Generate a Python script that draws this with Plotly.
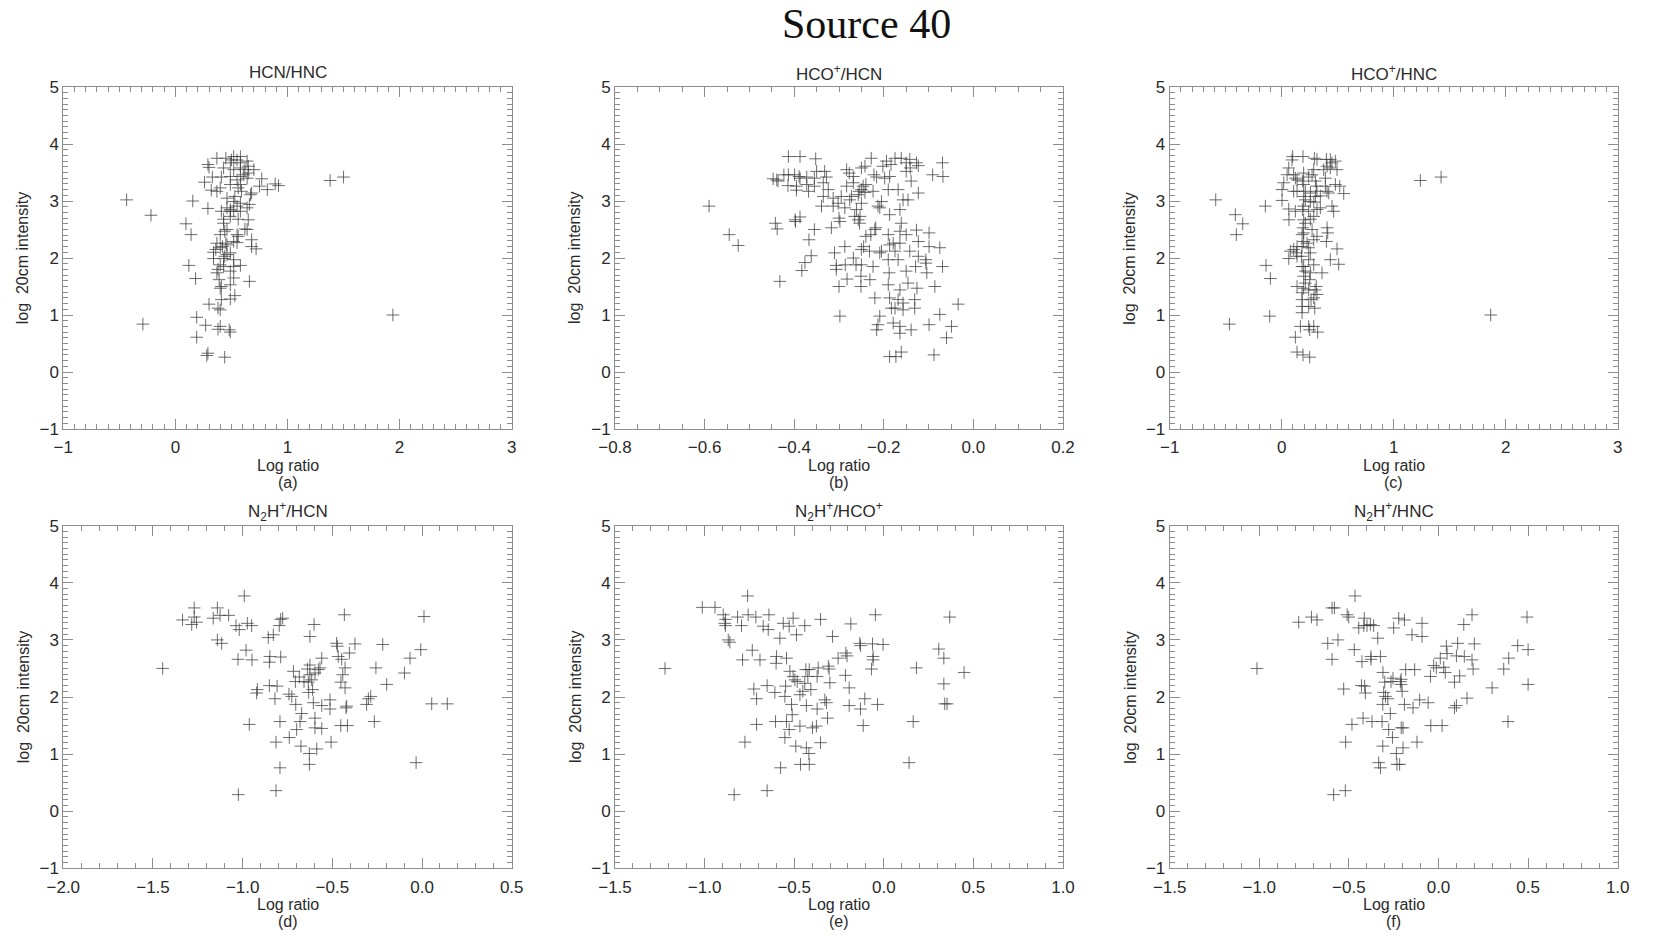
import plotly.graph_objects as go

W, H = 1677, 942

# ---------------- data ----------------
a_x = [-0.435, -0.218, -0.29, 1.94, 1.38, 1.50, 0.155, 0.094, 0.14, 0.12, 0.18, 0.19, 0.19, 0.29, 0.28, 0.44,
       0.27, 0.30, 0.40, 0.38, 0.48, 0.49, 0.38, 0.40, 0.41, 0.49, 0.53, 0.40, 0.41, 0.49, 0.52, 0.66,
       0.37, 0.38, 0.43, 0.52, 0.58, 0.34, 0.43, 0.44, 0.49, 0.34, 0.36, 0.40, 0.42, 0.46, 0.37, 0.52,
       0.56, 0.55, 0.68, 0.72, 0.68, 0.40, 0.44, 0.46, 0.43, 0.43, 0.49, 0.52, 0.49, 0.46, 0.29, 0.56,
       0.65, 0.62, 0.64, 0.58, 0.64, 0.66, 0.58, 0.52, 0.53, 0.46, 0.67, 0.68, 0.32, 0.37, 0.40, 0.49,
       0.56, 0.58, 0.55, 0.26, 0.33, 0.41, 0.49, 0.58, 0.61, 0.64, 0.65, 0.62, 0.70, 0.65, 0.58, 0.52,
       0.58, 0.64, 0.50, 0.52, 0.58, 0.55, 0.49, 0.43, 0.29, 0.30, 0.37, 0.45, 0.77, 0.75, 0.82, 0.89,
       0.92, 0.59, 0.55, 0.45, 0.46, 0.40, 0.39, 0.49, 0.49, 0.41, 0.55, 0.52]
a_y = [3.02, 2.75, 0.84, 1.00, 3.36, 3.42, 3.00, 2.60, 2.41, 1.87, 1.64, 0.96, 0.61, 0.33, 0.29, 0.26,
       0.82, 1.19, 0.80, 0.75, 0.74, 0.70, 1.12, 1.09, 1.27, 1.28, 1.34, 1.47, 1.50, 1.53, 1.65, 1.59,
       1.74, 1.80, 1.85, 1.85, 1.87, 1.99, 1.99, 2.03, 2.09, 2.10, 2.15, 2.18, 2.20, 2.23, 2.26, 2.29,
       2.38, 2.27, 2.32, 2.16, 2.20, 2.41, 2.47, 2.50, 2.61, 2.68, 2.73, 2.82, 2.85, 2.88, 2.87, 2.68,
       2.67, 2.51, 2.50, 2.82, 2.88, 2.94, 2.96, 2.99, 3.08, 3.05, 3.11, 3.14, 3.19, 3.17, 3.23, 3.29,
       3.23, 3.29, 3.37, 3.33, 3.42, 3.42, 3.43, 3.43, 3.46, 3.40, 3.49, 3.55, 3.55, 3.61, 3.58, 3.55,
       3.67, 3.70, 3.72, 3.78, 3.78, 3.72, 3.67, 3.58, 3.64, 3.59, 3.75, 3.75, 3.39, 3.26, 3.20, 3.30,
       3.27, 3.17, 2.91, 2.26, 2.06, 1.88, 1.62, 1.77, 2.82, 2.82, 2.41, 1.97]

b_x = [-0.590, -0.545, -0.525, -0.432, -0.442, -0.438, -0.447, -0.439, -0.436, -0.423, -0.413, -0.413,
       -0.414, -0.387, -0.399, -0.395, -0.395, -0.389, -0.387, -0.372, -0.368, -0.372, -0.352, -0.350,
       -0.355, -0.355, -0.328, -0.332, -0.335, -0.335, -0.339, -0.324, -0.313, -0.313, -0.398, -0.387,
       -0.397, -0.355, -0.367, -0.362, -0.376, -0.383, -0.317, -0.310, -0.306, -0.306, -0.300, -0.298,
       -0.300, -0.298, -0.302, -0.295, -0.283, -0.277, -0.276, -0.272, -0.268, -0.268, -0.283, -0.287,
       -0.287, -0.286, -0.282, -0.261, -0.265, -0.254, -0.257, -0.255, -0.250, -0.250, -0.242, -0.246,
       -0.240, -0.242, -0.250, -0.253, -0.257, -0.268, -0.262, -0.250, -0.251, -0.251, -0.231, -0.250,
       -0.245, -0.240, -0.229, -0.232, -0.228, -0.224, -0.222, -0.216, -0.213, -0.209, -0.218, -0.220,
       -0.224, -0.220, -0.213, -0.216, -0.209, -0.209, -0.205, -0.205, -0.202, -0.198, -0.194, -0.184,
       -0.187, -0.190, -0.187, -0.190, -0.187, -0.190, -0.188, -0.190, -0.187, -0.187, -0.175, -0.168,
       -0.179, -0.175, -0.183, -0.175, -0.179, -0.173, -0.164, -0.168, -0.164, -0.164, -0.161, -0.164,
       -0.161, -0.164, -0.168, -0.161, -0.157, -0.150, -0.150, -0.146, -0.142, -0.141, -0.139, -0.150,
       -0.146, -0.157, -0.157, -0.139, -0.142, -0.150, -0.127, -0.123, -0.123, -0.127, -0.123, -0.123,
       -0.129, -0.131, -0.131, -0.126, -0.106, -0.104, -0.099, -0.099, -0.091, -0.099, -0.088, -0.086,
       -0.075, -0.075, -0.069, -0.069, -0.068, -0.060, -0.049, -0.034, -0.106, -0.164]
b_y = [2.91, 2.41, 2.22, 1.59, 2.61, 2.51, 3.39, 3.37, 3.35, 3.46, 3.78, 3.46,
       3.27, 3.78, 3.46, 3.26, 3.19, 3.43, 3.40, 3.42, 3.17, 3.29, 3.74, 3.52,
       3.40, 3.26, 3.42, 3.52, 3.32, 3.08, 2.91, 3.20, 3.05, 2.91, 2.67, 2.72,
       2.64, 2.50, 2.32, 2.04, 1.92, 1.78, 2.53, 2.09, 1.87, 1.80, 1.50, 0.98,
       2.70, 2.64, 2.96, 3.08, 3.55, 3.49, 3.02, 3.08, 3.43, 3.32, 3.26, 2.88,
       2.20, 1.88, 1.63, 2.85, 2.73, 2.61, 3.11, 3.17, 3.20, 3.58, 3.61, 3.26,
       3.29, 3.15, 2.96, 2.73, 2.67, 2.00, 1.88, 1.88, 1.68, 1.50, 1.62, 2.15,
       2.20, 2.38, 2.41, 2.12, 3.75, 3.17, 3.46, 3.42, 2.91, 2.88, 2.53, 2.50,
       1.85, 1.30, 0.83, 0.74, 0.98, 2.09, 2.12, 2.99, 3.61, 3.40, 3.70, 3.64,
       3.43, 3.20, 2.76, 2.41, 2.23, 1.97, 1.74, 1.53, 1.30, 0.27, 3.75, 3.20,
       2.26, 2.12, 1.12, 1.12, 0.86, 0.27, 1.44, 1.27, 0.80, 0.68, 0.35, 2.85,
       2.61, 2.47, 1.97, 3.75, 3.02, 3.67, 3.52, 3.02, 3.73, 3.58, 3.35, 1.77,
       1.56, 1.21, 1.09, 0.74, 2.12, 2.41, 3.67, 3.62, 3.14, 2.49, 2.29, 2.03,
       1.85, 1.27, 1.12, 1.47, 1.97, 1.74, 2.44, 2.20, 3.46, 0.83, 0.30, 1.50,
       1.01, 2.18, 1.85, 3.67, 3.43, 0.60, 0.80, 1.19, 1.91, 2.26]

c_x = [-0.589, -0.414, -0.405, -0.348, -0.467, -0.146, -0.140, -0.101, -0.107, 0.003, 0.003, 0.018, 0.048,
       0.063, 0.098, 0.092, 0.065, 0.063, 0.063, 0.077, 0.107, 0.131, 0.137, 0.107, 0.122, 0.137, 0.137,
       0.107, 0.190, 0.196, 0.185, 0.196, 0.211, 0.196, 0.211, 0.196, 0.185, 0.196, 0.211, 0.190, 0.182,
       0.196, 0.182, 0.176, 0.196, 0.211, 0.196, 0.211, 0.196, 0.182, 0.182, 0.182, 0.182, 0.167, 0.122,
       0.137, 0.190, 0.250, 0.250, 0.241, 0.286, 0.321, 0.137, 0.241, 0.262, 0.286, 0.315, 0.309, 0.295,
       0.241, 0.250, 0.256, 0.286, 0.241, 0.256, 0.241, 0.226, 0.286, 0.315, 0.271, 0.256, 0.286, 0.315,
       0.256, 0.301, 0.256, 0.241, 0.271, 0.301, 0.309, 0.315, 0.286, 0.292, 0.315, 0.345, 0.360, 0.390,
       0.405, 0.375, 0.390, 0.405, 0.434, 0.449, 0.434, 0.479, 0.494, 0.399, 0.405, 0.399, 0.434, 0.411,
       0.449, 0.464, 0.420, 0.494, 0.509, 0.518, 0.479, 0.554, 0.122, 0.182, 0.137, 0.196, 0.241, 0.286,
       0.345, 0.298, 1.238, 1.423, 1.866]
c_y = [3.02, 2.76, 2.41, 2.60, 0.84, 2.91, 1.87, 1.64, 0.98, 3.01, 3.20, 3.32, 3.46,
       3.58, 3.78, 3.72, 2.67, 2.86, 1.99, 2.12, 2.15, 2.09, 2.20, 3.46, 3.40, 3.37, 3.17,
       3.17, 3.78, 3.49, 3.35, 3.29, 3.17, 3.08, 3.02, 2.91, 2.85, 2.67, 2.61, 2.53, 2.41,
       2.29, 2.20, 2.03, 1.85, 1.77, 1.68, 1.56, 1.47, 1.39, 1.27, 1.15, 1.04, 0.80, 0.61,
       0.35, 0.30, 0.26, 0.74, 0.80, 0.80, 0.70, 1.50, 1.15, 1.27, 1.30, 1.36, 1.50, 1.12,
       1.44, 1.62, 1.74, 1.88, 1.97, 2.09, 2.18, 2.26, 2.32, 2.38, 2.50, 2.68, 2.73, 2.85,
       2.99, 3.08, 3.14, 3.42, 3.46, 3.35, 3.26, 3.17, 3.55, 3.75, 3.73, 3.09, 1.74, 3.26,
       3.17, 3.55, 3.40, 3.61, 3.58, 3.67, 3.73, 3.70, 3.55, 3.73, 2.53, 2.29, 1.97, 2.44,
       2.91, 2.82, 3.14, 2.16, 1.89, 3.26, 3.29, 3.13, 2.82, 1.85, 2.03, 2.44, 2.82, 2.98,
       2.88, 1.44, 3.36, 3.42, 1.00]

d_x = [-1.446, -1.335, -1.284, -1.270, -1.270, -1.257, -1.164, -1.141, -1.126, -1.078, -1.141, -1.117,
       -1.037, -1.019, -1.026, -0.991, -0.974, -0.950, -0.981, -0.948, -0.963, -1.024, -0.918, -0.922,
       -0.857, -0.829, -0.848, -0.851, -0.851, -0.820, -0.808, -0.788, -0.796, -0.788, -0.777, -0.792,
       -0.814, -0.792, -0.814, -0.742, -0.726, -0.717, -0.706, -0.704, -0.699, -0.740, -0.684, -0.680,
       -0.671, -0.675, -0.658, -0.634, -0.639, -0.625, -0.632, -0.625, -0.615, -0.625, -0.628, -0.628,
       -0.610, -0.606, -0.602, -0.597, -0.597, -0.597, -0.587, -0.578, -0.569, -0.559, -0.559, -0.559,
       -0.513, -0.513, -0.507, -0.476, -0.472, -0.467, -0.452, -0.448, -0.453, -0.442, -0.433, -0.429,
       -0.429, -0.424, -0.420, -0.416, -0.405, -0.374, -0.299, -0.286, -0.309, -0.266, -0.257, -0.219,
       -0.197, -0.098, -0.067, -0.033, -0.007, 0.011, 0.054, 0.141]
d_y = [2.50, 3.35, 3.27, 3.56, 3.40, 3.31, 3.38, 3.56, 3.43, 3.43, 3.00, 2.94,
       3.25, 3.18, 2.66, 3.77, 3.29, 3.25, 2.82, 2.65, 1.52, 0.29, 2.13, 2.07,
       3.04, 3.09, 2.71, 2.61, 2.20, 1.97, 2.19, 2.70, 3.25, 3.36, 3.38, 1.57,
       1.21, 0.76, 0.36, 2.05, 2.01, 2.45, 2.27, 1.87, 1.43, 1.29, 2.35, 1.57,
       1.71, 1.14, 2.27, 2.26, 2.49, 2.56, 2.08, 2.39, 2.30, 3.06, 1.01, 0.82,
       2.13, 1.90, 3.27, 2.42, 1.63, 1.46, 1.09, 2.48, 2.51, 1.85, 2.68, 1.45,
       1.95, 1.79, 1.21, 2.94, 2.89, 2.71, 2.26, 2.66, 1.50, 2.39, 3.44, 2.51,
       2.16, 1.81, 1.84, 1.50, 2.77, 2.93, 1.97, 2.01, 1.87, 1.57, 2.51, 2.92,
       2.22, 2.42, 2.68, 0.85, 2.83, 3.41, 1.88, 1.88]

e_x = [-1.221, -1.013, -0.942, -0.896, -0.883, -0.887, -0.883, -0.868, -0.859, -0.816, -0.794, -0.760,
       -0.757, -0.714, -0.788, -0.734, -0.691, -0.725, -0.710, -0.710, -0.775, -0.835, -0.673, -0.645,
       -0.641, -0.651, -0.608, -0.604, -0.651, -0.599, -0.601, -0.580, -0.576, -0.561, -0.552, -0.548,
       -0.543, -0.543, -0.552, -0.528, -0.524, -0.528, -0.515, -0.511, -0.506, -0.506, -0.496, -0.487,
       -0.491, -0.483, -0.468, -0.468, -0.465, -0.452, -0.441, -0.441, -0.435, -0.432, -0.432, -0.424,
       -0.418, -0.416, -0.416, -0.407, -0.398, -0.376, -0.372, -0.366, -0.372, -0.353, -0.353, -0.329,
       -0.320, -0.314, -0.310, -0.305, -0.301, -0.286, -0.255, -0.212, -0.205, -0.214, -0.193, -0.193,
       -0.184, -0.134, -0.130, -0.130, -0.115, -0.106, -0.069, -0.063, -0.060, -0.060, -0.047, -0.035,
       -0.004, 0.141, 0.164, 0.182, 0.307, 0.335, 0.335, 0.340, 0.353, 0.368, 0.448]
e_y = [2.50, 3.57, 3.57, 3.44, 3.36, 3.29, 3.25, 3.00, 2.96, 3.40, 3.25, 3.77,
       3.44, 3.40, 2.65, 2.82, 2.65, 2.14, 1.97, 1.52, 1.21, 0.29, 3.24, 3.18,
       3.44, 2.20, 2.08, 1.57, 0.36, 2.71, 2.59, 3.03, 0.76, 3.29, 2.01, 2.19,
       2.68, 1.57, 1.29, 3.24, 2.45, 1.43, 1.87, 1.69, 3.38, 2.36, 2.30, 3.09,
       1.14, 2.27, 1.49, 2.04, 0.82, 2.10, 3.25, 2.24, 2.48, 1.85, 1.11, 2.36,
       1.01, 2.48, 0.82, 2.13, 1.46, 1.49, 2.36, 2.51, 1.79, 1.20, 3.36, 1.95,
       1.90, 1.63, 2.54, 2.49, 2.25, 3.06, 2.68, 2.77, 2.72, 2.38, 2.16, 1.85,
       3.28, 2.94, 2.90, 1.79, 1.50, 1.97, 2.49, 2.93, 2.71, 2.65, 3.44, 1.87,
       2.92, 0.85, 1.57, 2.51, 2.84, 2.68, 2.23, 1.88, 1.88, 3.40, 2.43]

f_x = [-1.013, -0.780, -0.709, -0.678, -0.618, -0.594, -0.581, -0.594, -0.561, -0.585, -0.529, -0.520,
       -0.518, -0.510, -0.501, -0.483, -0.470, -0.466, -0.445, -0.427, -0.430, -0.421, -0.417, -0.414,
       -0.412, -0.408, -0.399, -0.380, -0.377, -0.377, -0.371, -0.362, -0.339, -0.334, -0.324, -0.324,
       -0.315, -0.311, -0.311, -0.310, -0.306, -0.300, -0.296, -0.283, -0.278, -0.269, -0.265, -0.257,
       -0.254, -0.250, -0.235, -0.232, -0.222, -0.217, -0.213, -0.209, -0.208, -0.203, -0.208, -0.198,
       -0.198, -0.190, -0.190, -0.183, -0.148, -0.142, -0.133, -0.120, -0.105, -0.092, -0.092, -0.058,
       -0.045, -0.043, -0.027, -0.012, 0.010, 0.020, 0.029, 0.038, 0.044, 0.048, 0.089, 0.089,
       0.100, 0.100, 0.107, 0.118, 0.141, 0.144, 0.159, 0.187, 0.187, 0.193, 0.200, 0.299,
       0.364, 0.388, 0.392, 0.442, 0.494, 0.500, 0.500]
f_y = [2.50, 3.31, 3.40, 3.35, 2.94, 3.56, 3.56, 2.66, 3.00, 0.29, 2.14, 0.36,
       1.21, 3.44, 3.40, 1.52, 2.83, 3.77, 3.21, 2.62, 2.20, 1.63, 3.25, 3.38,
       2.19, 2.07, 3.25, 3.27, 2.66, 2.71, 1.57, 3.25, 3.03, 0.85, 0.76, 2.71,
       1.57, 1.87, 1.14, 2.43, 2.08, 2.26, 2.01, 1.97, 1.43, 1.71, 2.27, 1.29,
       2.33, 3.21, 1.01, 0.82, 3.38, 0.82, 2.27, 2.22, 2.31, 2.10, 1.46, 1.46,
       1.11, 1.87, 3.35, 2.48, 3.09, 1.81, 2.48, 1.21, 1.95, 3.29, 3.06, 1.90,
       2.36, 1.50, 2.55, 2.51, 2.68, 1.50, 2.52, 2.43, 2.89, 2.76, 2.26, 1.81,
       1.85, 2.72, 2.94, 2.37, 3.27, 2.71, 1.98, 3.44, 2.65, 2.49, 2.93, 2.16,
       2.49, 1.57, 2.68, 2.90, 3.40, 2.83, 2.22]

titles = ["HCN/HNC", "HCO<sup>+</sup>/HCN", "HCO<sup>+</sup>/HNC",
          "N<sub>2</sub>H<sup>+</sup>/HCN", "N<sub>2</sub>H<sup>+</sup>/HCO<sup>+</sup>",
          "N<sub>2</sub>H<sup>+</sup>/HNC"]
letters = ["(a)", "(b)", "(c)", "(d)", "(e)", "(f)"]
x_ranges = [[-1, 3], [-0.8, 0.2], [-1, 3], [-2.0, 0.5], [-1.5, 1.0], [-1.5, 1.0]]
x_dticks = [1, 0.2, 1, 0.5, 0.5, 0.5]
x_minor = [0.1, 0.05, 0.1, 0.1, 0.1, 0.1]
x_formats = ["d", ".1f", "d", ".1f", ".1f", ".1f"]
y_range = [-1, 5]
xs = [a_x, b_x, c_x, d_x, e_x, f_x]
ys = [a_y, b_y, c_y, d_y, e_y, f_y]

# ---------------- layout (pixel boxes of each panel) ----------------
col_px = [(63.3, 511.7), (615.0, 1063.0), (1169.7, 1617.7)]
row_px = [(87.0, 429.0), (525.7, 868.3)]

AXC = "#8c8c8c"
TXT = "#2a2a2a"
FONT = "Liberation Sans"

fig = go.Figure()
annotations = []
layout = {}
for i in range(6):
    r, c = divmod(i, 3)
    x0, x1 = col_px[c]
    top, bot = row_px[r]
    n = "" if i == 0 else str(i + 1)
    fig.add_trace(go.Scatter(
        x=xs[i], y=ys[i], mode="markers",
        xaxis="x" + n, yaxis="y" + n,
        marker=dict(symbol="cross-thin", size=9,
                    line=dict(width=1, color="rgba(60,60,60,0.75)")),
        showlegend=False, hoverinfo="x+y"))
    common = dict(showgrid=False, zeroline=False, showline=True, linecolor=AXC,
                  linewidth=1, mirror="allticks", ticks="inside", ticklen=10,
                  tickwidth=1, tickcolor=AXC, automargin=False,
                  tickfont=dict(family=FONT, size=17, color=TXT))
    layout["xaxis" + n] = dict(
        common, domain=[x0 / W, x1 / W], range=x_ranges[i], anchor="y" + n,
        dtick=x_dticks[i], tick0=0, tickformat=x_formats[i], ticklabelstandoff=3,
        minor=dict(dtick=x_minor[i], tick0=0, ticks="inside", ticklen=5,
                   tickcolor=AXC, showgrid=False))
    layout["yaxis" + n] = dict(
        common, domain=[1 - bot / H, 1 - top / H], range=y_range, anchor="x" + n,
        dtick=1, tick0=0, tickformat="d",
        minor=dict(dtick=0.1, tick0=0, ticks="inside", ticklen=5,
                   tickcolor=AXC, showgrid=False))
    cx = (x0 + x1) / 2 / W
    annotations.append(dict(text=titles[i], x=cx, y=1 - (top - 14) / H,
                            xref="paper", yref="paper", showarrow=False,
                            xanchor="center", yanchor="middle",
                            font=dict(family=FONT, size=17, color=TXT)))
    annotations.append(dict(text="Log ratio", x=cx, y=1 - (bot + 36) / H,
                            xref="paper", yref="paper", showarrow=False,
                            xanchor="center", yanchor="middle",
                            font=dict(family=FONT, size=16, color=TXT)))
    annotations.append(dict(text=letters[i], x=cx, y=1 - (bot + 53) / H,
                            xref="paper", yref="paper", showarrow=False,
                            xanchor="center", yanchor="middle",
                            font=dict(family=FONT, size=16, color=TXT)))
    annotations.append(dict(text="log  20cm intensity", x=(x0 - 40) / W,
                            y=1 - (top + bot) / 2 / H, textangle=-90,
                            xref="paper", yref="paper", showarrow=False,
                            xanchor="center", yanchor="middle",
                            font=dict(family=FONT, size=16, color=TXT)))

annotations.append(dict(text="Source 40", x=866 / W, y=1.0,
                        xref="paper", yref="paper", showarrow=False,
                        xanchor="center", yanchor="top", borderpad=0,
                        font=dict(family="Liberation Serif", size=42, color="#111111")))

fig.update_layout(width=W, height=H, margin=dict(l=0, r=0, t=0, b=0, autoexpand=False),
                  paper_bgcolor="white", plot_bgcolor="white",
                  annotations=annotations, **layout)

fig.write_html("out.html")
